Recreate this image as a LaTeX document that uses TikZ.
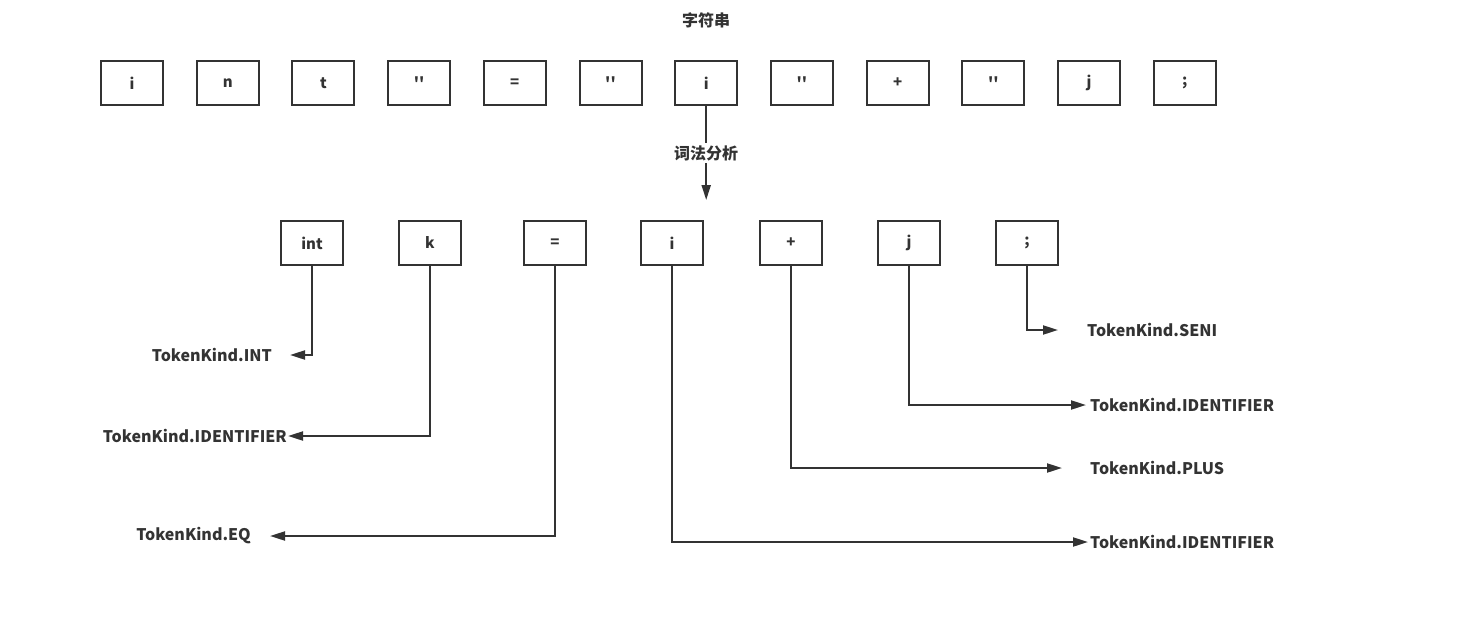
\documentclass[tikz,border=0pt]{standalone}
\usepackage{fontspec}
\setmainfont{Noto Sans CJK SC}[Ligatures=TeXOff]
\usetikzlibrary{positioning,arrows.meta,calc}
\definecolor{ink}{HTML}{333333}
\tikzset{
  chr/.style={draw=ink, line width=2pt, minimum width=62pt, minimum height=44pt, inner sep=0pt, font=\fontsize{15}{17}\selectfont\bfseries, text=ink},
  tok/.style={draw=ink, line width=2pt, minimum width=62pt, minimum height=44pt, inner sep=0pt, font=\fontsize{15}{17}\selectfont\bfseries, text=ink},
  kind/.style={font=\fontsize{16}{19}\selectfont\bfseries, text=ink, inner sep=0pt},
  lbl/.style={font=\fontsize{16}{19}\selectfont\bfseries, text=ink, fill=white, inner sep=2pt},
  fl/.style={-{Triangle[length=15pt,width=9pt]}, draw=ink, line width=2pt},
}
\begin{document}
\begin{tikzpicture}[x=1pt, y=-1pt, node distance=5mm and 31.7pt]
\useasboundingbox (0,0) rectangle (1460,624);
\node[lbl, fill=none] (title) at (706,20) {字符串};
% character stream
\node[chr] (c1) at (132,83) {i};
\node[chr, right=of c1] (c2) {n};
\node[chr, right=of c2] (c3) {t};
\node[chr, right=of c3] (c4) {''};
\node[chr, right=of c4] (c5) {=};
\node[chr, right=of c5] (c6) {''};
\node[chr, right=of c6] (c7) {i};
\node[chr, right=of c7] (c8) {''};
\node[chr, right=of c8] (c9) {+};
\node[chr, right=of c9] (c10) {''};
\node[chr, right=of c10] (c11) {j};
\node[chr, right=of c11] (c12) {;};
\coordinate (lex) at (706,200);
\draw[fl] (c7.south) -- node[lbl] {词法分析} (c7.south |- lex);
% tokens
\node[tok] (t1) at (312,243) {int};
\node[tok] (t2) at (430,243) {k};
\node[tok] (t3) at (555,243) {=};
\node[tok] (t4) at (672,243) {i};
\node[tok] (t5) at (791,243) {+};
\node[tok] (t6) at (909,243) {j};
\node[tok] (t7) at (1027,243) {;};
% token kinds
\node[kind, anchor=east] (k1) at (272,355) {TokenKind.INT};
\node[kind, anchor=east] (k2) at (287,436) {TokenKind.IDENTIFIER};
\node[kind, anchor=east] (k3) at (251,536) {TokenKind.EQ};
\node[kind, anchor=west] (k4) at (1090,542) {TokenKind.IDENTIFIER};
\node[kind, anchor=west] (k5) at (1090,468) {TokenKind.PLUS};
\node[kind, anchor=west] (k6) at (1090,405) {TokenKind.IDENTIFIER};
\node[kind, anchor=west] (k7) at (1087,330) {TokenKind.SENI};
\draw[fl, shorten >=18pt] (t1.south) |- (k1.east);
\draw[fl, shorten >=1pt] (t2.south) |- (k2.east);
\draw[fl, shorten >=19pt] (t3.south) |- (k3.east);
\draw[fl, shorten >=2pt] (t4.south) |- (k4.west);
\draw[fl, shorten >=28pt] (t5.south) |- (k5.west);
\draw[fl, shorten >=4pt] (t6.south) |- (k6.west);
\draw[fl, shorten >=29pt] (t7.south) |- (k7.west);
\end{tikzpicture}
\end{document}
